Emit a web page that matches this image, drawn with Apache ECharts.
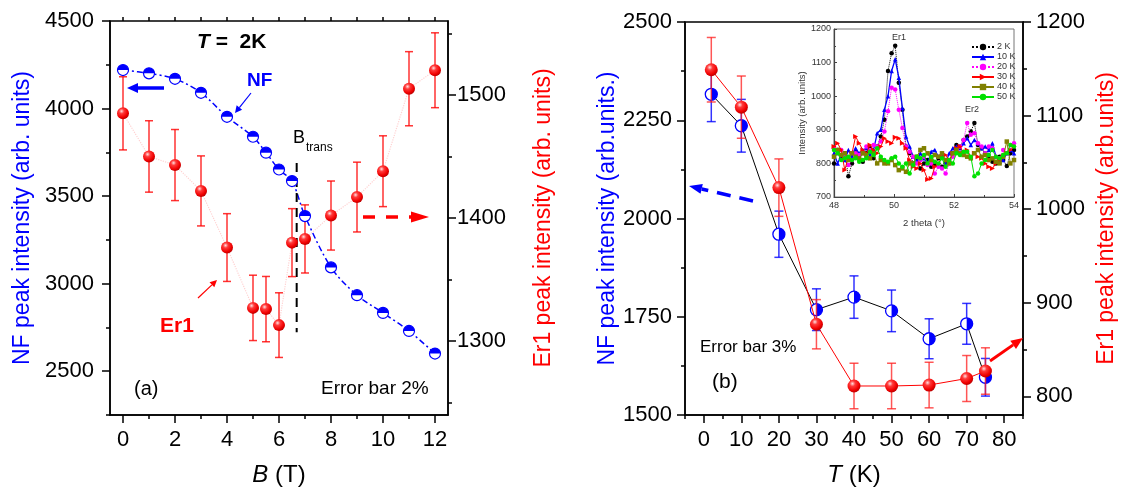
<!DOCTYPE html>
<html><head><meta charset="utf-8">
<script src="https://cdn.jsdelivr.net/npm/echarts@6/dist/echarts.min.js"></script>
<style>html,body{margin:0;padding:0;background:#fff}#c{width:1130px;height:488px}</style>
</head><body><div id="c"></div><script>
// ---------- Panel (a): B dependence at T = 2 K ----------
const fieldB = [0,1,2,3,4,5,5.5,6,6.5,7,8,9,10,11,12];
const nfA    = [4220,4201,4170,4090,3953,3839,3748,3652,3586,3386,3093,2934,2833,2730,2601];
const er1A   = [1485,1450,1443,1422,1376,1327,1326,1313,1380,1383,1402,1417,1438,1505,1520];
const errPctA = 0.02;
const bTrans = 6.68;
const bTransSpan = [3689, 2723];
// ---------- Panel (b): T dependence ----------
const tempT = [2,10,20,30,40,50,60,70,75];
const nfB   = [2316,2236,1960,1768,1800,1765,1694,1732,1596];
const er1B  = [1149,1109,1023,877,811,811,812,819,827];
const errPctB = 0.03;
// ---------- Inset: diffraction scans ----------
const thetaX = [48.00,48.12,48.24,48.36,48.48,48.60,48.72,48.84,48.96,49.08,49.20,49.32,49.44,49.56,49.68,49.80,49.92,50.04,50.16,50.28,50.40,50.52,50.64,50.76,50.88,51.00,51.12,51.24,51.36,51.48,51.60,51.72,51.84,51.96,52.08,52.20,52.32,52.44,52.56,52.68,52.80,52.92,53.04,53.16,53.28,53.40,53.52,53.64,53.76,53.88,54.00];
const scan2K  = [800,840,815,830,762,800,835,825,805,830,845,815,850,880,930,1075,1128,1150,1040,960,850,830,800,812,785,800,810,790,795,815,790,800,805,830,855,850,870,880,895,920,855,845,830,815,805,800,820,810,792,830,840];
const scan10K = [830,800,825,810,840,820,845,830,840,845,825,840,890,900,960,1000,1075,1110,1055,965,880,850,820,805,830,815,800,835,840,820,830,800,830,845,850,845,860,875,855,870,860,845,850,840,860,820,805,810,830,840,830];
const scan20K = [845,830,840,820,795,810,830,825,830,850,840,855,850,865,895,955,1025,1020,960,905,850,835,820,800,810,820,795,800,770,790,785,770,800,820,840,850,870,920,885,890,860,850,830,850,845,820,815,840,830,855,860];
const scan30K = [850,860,840,780,820,830,880,860,840,830,855,840,830,850,875,865,860,878,875,860,845,810,790,785,800,780,752,755,790,800,820,825,810,830,845,850,830,840,820,830,820,815,800,790,785,800,810,820,830,840,850];
const scan40K = [820,840,825,830,810,830,820,815,830,825,815,830,800,810,800,800,810,795,780,785,775,800,800,820,840,845,830,810,825,820,830,810,800,830,840,830,825,820,815,830,840,820,825,810,815,805,800,820,865,800,810];
const scan50K = [840,830,810,815,820,810,815,805,810,815,835,825,845,820,810,805,815,820,800,790,800,770,795,820,815,825,800,820,805,800,815,790,810,800,830,825,835,835,820,762,770,800,810,825,840,820,815,825,830,855,850];
const scanNames = ['2 K','10 K','20 K','30 K','40 K','50 K'];
// ---------- Tick positions / labels ----------
const aXLabels = [0,2,4,6,8,10,12];
const aXMinor  = [1,3,5,7,9,11];
const aXTop    = [0,1,2,3,4,5,6,7,8,9,10,11,12];
const aYLLabels = [2500,3000,3500,4000,4500];
const aYLMinor  = [2250,2750,3250,3750,4250];
const aYRLabels = [1300,1400,1500];
const aYRMinor  = [1250,1350,1450,1550];
const bXLabels = [0,10,20,30,40,50,60,70,80];
const bXMinor  = [-5,5,15,25,35,45,55,65,75,85];
const bYLLabels = [1500,1750,2000,2250,2500];
const bYLMinor  = [1625,1875,2125,2375];
const bYRLabels = [800,900,1000,1100,1200];
const bYRMinor  = [850,950,1050,1150];

const FONT = "'Liberation Sans', Arial, sans-serif";
const BLUE = '#0000ff', RED = '#ff0000';
const plain = v => String(v);

function mainAxis(o){
  const ax = {
    type:'value', gridIndex:o.grid, position:o.pos, min:o.min, max:o.max,
    axisLine:{show:o.line!==false, onZero:false, lineStyle:{color:'#000', width:1.5}},
    axisTick:{show:true, inside:false, length:o.tl||8, customValues:o.ticks, lineStyle:{color:'#000', width:1.5}},
    axisLabel:{show:!!o.labels, customValues:o.labels||[], formatter:plain, margin:o.margin||10, fontSize:22, color:'#000', fontFamily:FONT},
    splitLine:{show:false}
  };
  if (o.name){
    ax.name = o.name; ax.nameLocation='middle'; ax.nameGap=o.gap;
    if (o.rot!==undefined) ax.nameRotate=o.rot;
    ax.nameTextStyle = Object.assign({fontSize:23, color:o.ncolor||'#000', fontFamily:FONT}, o.nstyle||{});
  }
  return ax;
}

const sphere = {type:'radial', x:0.38, y:0.32, r:0.7, colorStops:[
  {offset:0, color:'#ffe0e0'},{offset:0.3, color:'#ff3a3a'},{offset:0.75, color:'#f00000'},{offset:1, color:'#b80000'}]};

function errRender(cap, color){
  return function(params, api){
    const x = api.value(0), y = api.value(1), e = api.value(2);
    const hi = api.coord([x, y+e]), lo = api.coord([x, y-e]);
    const h = cap/2, st = {stroke:color, lineWidth:1.5};
    return {type:'group', children:[
      {type:'line', shape:{x1:hi[0],y1:hi[1],x2:lo[0],y2:lo[1]}, style:st},
      {type:'line', shape:{x1:hi[0]-h,y1:hi[1],x2:hi[0]+h,y2:hi[1]}, style:st},
      {type:'line', shape:{x1:lo[0]-h,y1:lo[1],x2:lo[0]+h,y2:lo[1]}, style:st}
    ]};
  };
}
const pairs = (xs, ys) => xs.map((x,i)=>[x, ys[i]]);
const errData = (xs, ys, p) => xs.map((x,i)=>[x, ys[i], ys[i]*p]);

function arrow(x1,y1,x2,y2,color,w,hl,hw,dash){
  const a = Math.atan2(y2-y1, x2-x1);
  const bx = x2 - hl*Math.cos(a), by = y2 - hl*Math.sin(a);
  const px = -Math.sin(a)*hw, py = Math.cos(a)*hw;
  return [
    {type:'line', z:50, shape:{x1:x1,y1:y1,x2:bx,y2:by}, style:{stroke:color, lineWidth:w, lineDash:dash||null}},
    {type:'polygon', z:50, shape:{points:[[x2,y2],[bx+px,by+py],[bx-px,by-py]]}, style:{fill:color}}
  ];
}
function txt(x,y,text,size,color,extra){
  return {type:'text', z:50, style:Object.assign({x:x, y:y, text:text, fontSize:size, fontFamily:FONT, fill:color||'#000', verticalAlign:'middle', align:'left'}, extra||{})};
}

const insetColors = ['#000000','#0000ff','#ff00ff','#ff0000','#808000','#00e000'];
const insetSymbols = ['circle','triangle','circle','path://M0,0L20,10L0,20Z','rect','circle'];
const insetDash = ['dotted','solid','dotted','solid','solid','solid'];
const scans = [scan2K, scan10K, scan20K, scan30K, scan40K, scan50K];

const option = {
  animation:false,
  textStyle:{fontFamily:FONT},
  grid:[
    {left:110, top:21, width:338, height:394, show:true, borderColor:'#000', borderWidth:1.5, backgroundColor:'transparent', outerBoundsMode:'none'},
    {left:685, top:22, width:338, height:393, show:true, borderColor:'#000', borderWidth:1.5, backgroundColor:'transparent', outerBoundsMode:'none'},
    {left:834, top:29, width:180, height:168, show:true, borderColor:'#777', borderWidth:1, backgroundColor:'#fff', outerBoundsMode:'none'}
  ],
  xAxis:[
    mainAxis({grid:0, pos:'bottom', min:-0.5, max:12.5, ticks:aXLabels, labels:aXLabels, margin:14,
      name:'{i|B} (T)', gap:48, nstyle:{fontSize:24, rich:{i:{fontStyle:'italic', fontSize:24, fontFamily:FONT}}}}),
    mainAxis({grid:0, pos:'bottom', min:-0.5, max:12.5, ticks:aXMinor, line:false, tl:4}),
    mainAxis({grid:0, pos:'top', min:-0.5, max:12.5, ticks:aXTop, line:false, tl:4}),
    mainAxis({grid:1, pos:'bottom', min:-5, max:85, ticks:bXLabels, labels:bXLabels, margin:14,
      name:'{i|T} (K)', gap:48, nstyle:{fontSize:24, rich:{i:{fontStyle:'italic', fontSize:24, fontFamily:FONT}}}}),
    mainAxis({grid:1, pos:'bottom', min:-5, max:85, ticks:bXMinor, line:false, tl:4}),
    {type:'value', gridIndex:2, min:48, max:54, interval:2,
      axisLine:{onZero:false, lineStyle:{color:'#444', width:1.2}},
      axisTick:{inside:true, length:3, lineStyle:{color:'#444'}},
      minorTick:{show:true, splitNumber:2, length:2, lineStyle:{color:'#444'}},
      axisLabel:{fontSize:9, color:'#333', margin:4, formatter:plain},
      splitLine:{show:false},
      name:'2 theta (°)', nameLocation:'middle', nameGap:21, nameTextStyle:{fontSize:9.5, color:'#333'}}
  ],
  yAxis:[
    mainAxis({grid:0, pos:'left', min:2250, max:4500, ticks:aYLLabels, labels:aYLLabels, margin:16,
      name:'NF peak intensity (arb. units)', gap:76, rot:90, ncolor:BLUE}),
    mainAxis({grid:0, pos:'left', min:2250, max:4500, ticks:aYLMinor, line:false, tl:4}),
    mainAxis({grid:0, pos:'right', min:1240, max:1560, ticks:aYRLabels, labels:aYRLabels, margin:9,
      name:'Er1 peak intensity (arb. units)', gap:84, rot:90, ncolor:RED}),
    mainAxis({grid:0, pos:'right', min:1240, max:1560, ticks:aYRMinor, line:false, tl:4}),
    mainAxis({grid:1, pos:'left', min:1500, max:2500, ticks:bYLLabels, labels:bYLLabels, margin:13,
      name:'NF peak intensity (arb.units.)', gap:63, rot:90, ncolor:BLUE}),
    mainAxis({grid:1, pos:'left', min:1500, max:2500, ticks:bYLMinor, line:false, tl:4}),
    mainAxis({grid:1, pos:'right', min:780, max:1200, ticks:bYRLabels, labels:bYRLabels, margin:13,
      name:'Er1 peak intensity (arb.units)', gap:72, rot:90, ncolor:RED}),
    mainAxis({grid:1, pos:'right', min:780, max:1200, ticks:bYRMinor, line:false, tl:4}),
    {type:'value', gridIndex:2, min:700, max:1200, interval:100,
      axisLine:{show:true, onZero:false, lineStyle:{color:'#444', width:1.2}},
      axisTick:{show:true, inside:true, length:3, lineStyle:{color:'#444'}},
      minorTick:{show:true, splitNumber:2, length:2, lineStyle:{color:'#444'}},
      axisLabel:{fontSize:9, color:'#333', margin:3, formatter:plain},
      splitLine:{show:false},
      name:'Intensity (arb. units)', nameLocation:'middle', nameGap:26, nameRotate:90, nameTextStyle:{fontSize:9.5, color:'#333'}}
  ],
  legend:{show:true, data:scanNames, left:966, top:37, orient:'vertical', itemGap:0, itemWidth:22, itemHeight:8,
    textStyle:{fontSize:9, color:'#333', lineHeight:10, padding:[0,0,0,-2]}},
  series:[
    // ---- panel (a)
    {type:'custom', name:'errA', xAxisIndex:0, yAxisIndex:2, renderItem:errRender(8,'rgba(255,0,0,0.8)'),
      data:errData(fieldB, er1A, errPctA), encode:{x:0,y:1}, clip:false, z:3},
    {type:'line', name:'er1AConn', xAxisIndex:0, yAxisIndex:2, data:pairs(fieldB, er1A), symbol:'none',
      lineStyle:{color:'rgba(255,0,0,0.18)', width:1.2, type:'dotted'}, z:2},
    {type:'line', name:'nfAFit', xAxisIndex:0, yAxisIndex:0, data:pairs(fieldB, nfA), symbol:'none', smooth:0.3,
      lineStyle:{color:BLUE, width:1.5, type:[6,3,2,3]}, z:2},
    {type:'line', name:'bTrans', xAxisIndex:0, yAxisIndex:0, data:[[bTrans,bTransSpan[0]],[bTrans,bTransSpan[1]]], symbol:'none',
      lineStyle:{color:'#000', width:2, type:[9,6]}, z:2},
    {type:'scatter', name:'nfA', xAxisIndex:0, yAxisIndex:0, data:pairs(fieldB, nfA), symbol:'circle', symbolSize:11,
      itemStyle:{color:'#fff', borderColor:BLUE, borderWidth:1.2, opacity:1}, z:5},
    {type:'scatter', name:'nfAHalf', xAxisIndex:0, yAxisIndex:0, data:pairs(fieldB, nfA), symbol:'path://M0,10A10,10,0,0,1,20,10Z',
      symbolSize:[11,5.5], symbolOffset:[0,'-50%'], itemStyle:{color:BLUE, opacity:1}, z:6},
    {type:'scatter', name:'er1A', xAxisIndex:0, yAxisIndex:2, data:pairs(fieldB, er1A), symbol:'circle', symbolSize:12,
      itemStyle:{color:sphere, opacity:1}, z:7},
    // ---- panel (b)
    {type:'custom', name:'errNfB', xAxisIndex:3, yAxisIndex:4, renderItem:errRender(9,'rgba(0,0,255,0.8)'),
      data:errData(tempT, nfB, errPctB), encode:{x:0,y:1}, clip:false, z:3},
    {type:'line', name:'nfB', xAxisIndex:3, yAxisIndex:4, data:pairs(tempT, nfB), symbol:'circle', symbolSize:12,
      itemStyle:{color:'#fff', borderColor:BLUE, borderWidth:1.3}, lineStyle:{color:'#000', width:1}, z:4},
    {type:'scatter', name:'nfBHalf', xAxisIndex:3, yAxisIndex:4, data:pairs(tempT, nfB), symbol:'path://M10,0A10,10,0,0,1,10,20Z',
      symbolSize:[6,12], symbolOffset:['50%',0], itemStyle:{color:BLUE, opacity:1}, z:5},
    {type:'custom', name:'errEr1B', xAxisIndex:3, yAxisIndex:6, renderItem:errRender(9,'rgba(255,30,30,0.75)'),
      data:errData(tempT, er1B, errPctB), encode:{x:0,y:1}, clip:false, z:6},
    {type:'line', name:'er1B', xAxisIndex:3, yAxisIndex:6, data:pairs(tempT, er1B), symbol:'circle', symbolSize:13,
      itemStyle:{color:sphere, opacity:1}, lineStyle:{color:RED, width:1}, z:7},
    // ---- inset
    ...scans.map((s,i)=>({type:'line', name:scanNames[i], xAxisIndex:5, yAxisIndex:8, data:pairs(thetaX, s),
      symbol:insetSymbols[i], symbolSize:i===3?[5,5]:4.5, showSymbol:true,
      itemStyle:{color:insetColors[i], opacity:1}, lineStyle:{color:insetColors[i], width:i===1?1.3:1, type:insetDash[i]}, z:10+i}))
  ],
  graphic:[
    txt(197, 42, '{i|T} =  2K', 21, '#000', {fontWeight:'bold', rich:{i:{fontStyle:'italic', fontWeight:'bold', fontSize:21, fontFamily:FONT}}}),
    txt(247, 81, 'NF', 19, BLUE, {fontWeight:'bold'}),
    txt(293, 138, 'B', 18, '#000'),
    txt(306, 148, 'trans', 12, '#000'),
    txt(160, 326, 'Er1', 21, RED, {fontWeight:'bold'}),
    txt(134, 389, '(a)', 20, '#000'),
    txt(321, 389, 'Error bar 2%', 19, '#000'),
    txt(700, 347, 'Error bar 3%', 17, '#000'),
    txt(712, 382, '(b)', 21, '#000'),
    txt(899, 38, 'Er1', 9, '#333', {align:'center'}),
    txt(972, 110, 'Er2', 9, '#333', {align:'center'}),
    ...arrow(164, 88, 127, 88, BLUE, 3.5, 11, 5),
    ...arrow(251, 93, 235, 113, BLUE, 1.2, 7, 3.5),
    ...arrow(198, 298, 217, 280, RED, 1.2, 7, 3.5),
    ...arrow(363, 217, 429, 217, RED, 3.5, 18, 5.5, [12,11]),
    ...arrow(753, 201, 689, 186, BLUE, 3.5, 13, 5, [14,9]),
    ...arrow(990, 361, 1023, 338, RED, 3, 12, 5)
  ]
};
const chart = echarts.init(document.getElementById('c'), null, {renderer:'canvas'});
chart.setOption(option);
</script></body></html>
